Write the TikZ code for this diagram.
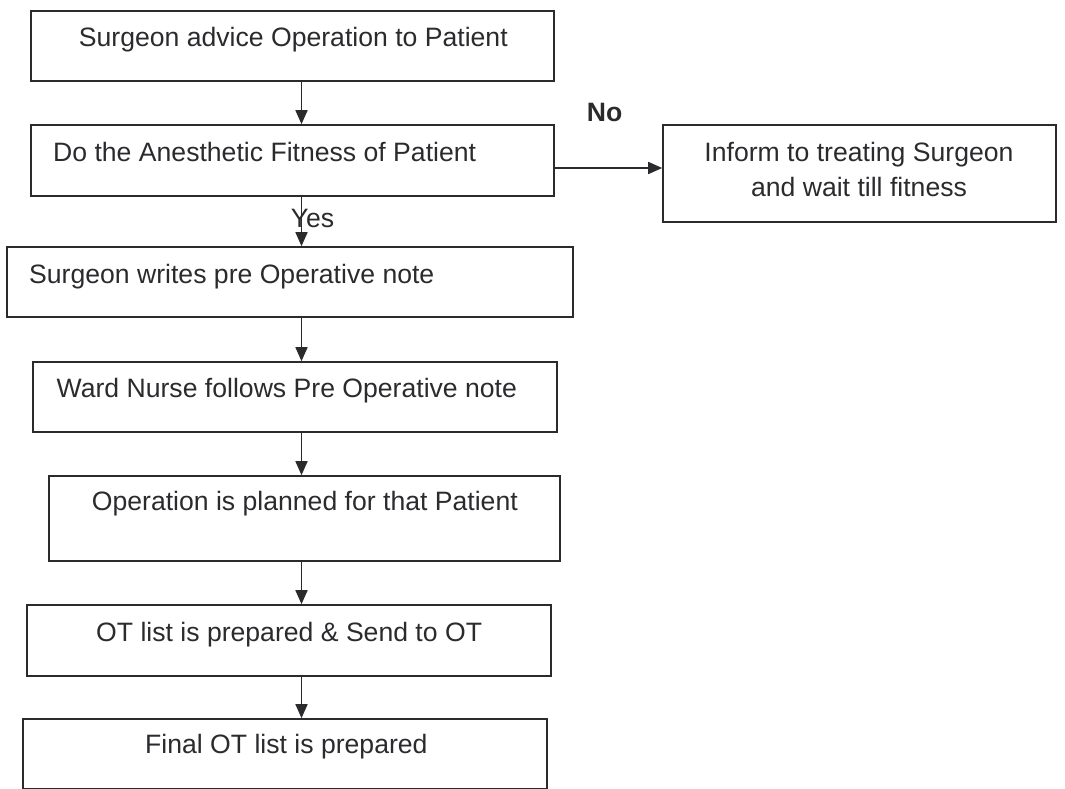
\documentclass[tikz,border=0pt]{standalone}
\usepackage{fontspec}
\setmainfont{Liberation Sans}
\usetikzlibrary{arrows.meta}
\definecolor{ink}{HTML}{2B2B2E}
\tikzset{
  box/.style={draw=ink, line width=1.6pt, fill=none, inner sep=0pt, minimum width=#1},
  txt/.style={anchor=base west, inner sep=0pt, text=ink, font=\fontsize{26.6}{32}\selectfont},
  ctxt/.style={anchor=base, inner sep=0pt, text=ink, font=\fontsize{26.6}{32}\selectfont},
  arr/.style={draw=ink, line width=1.6pt, -{Triangle[length=14pt,width=12pt]}}
}
\begin{document}
\begin{tikzpicture}[x=1pt,y=-1pt]
\useasboundingbox (0,0) rectangle (1065,789);
% boxes
\node[box=523pt, minimum height=70pt] (b1) at (292.5,46) {};
\node[box=523pt, minimum height=71pt] (b2) at (292.5,160.5) {};
\node[box=393pt, minimum height=97pt] (b3) at (859.5,173.5) {};
\node[box=566pt, minimum height=70pt] (b4) at (290,282) {};
\node[box=524pt, minimum height=70pt] (b5) at (295,397) {};
\node[box=511pt, minimum height=85pt] (b6) at (304.5,518.5) {};
\node[box=524pt, minimum height=71pt] (b7) at (289,640.5) {};
\node[box=524pt, minimum height=70pt] (b8) at (285,754) {};
% texts
\node[txt] (t1) at (78.7,46.7) {Surgeon advice Operation to Patient};
\node[txt] (t2) at (53,161.7) {Do the Anesthetic Fitness of Patient};
\node[ctxt] (t3a) at (859,161.7) {Inform to treating Surgeon};
\node[ctxt] (t3b) at (859,196.7) {and wait till fitness};
\node[txt] (t4) at (29,283) {Surgeon writes pre Operative note};
\node[txt] (t5) at (56.5,397) {Ward Nurse follows Pre Operative note};
\node[txt] (t6) at (91.7,510.7) {Operation is planned for that Patient};
\node[txt] (t7) at (96,641.5) {OT list is prepared \& Send to OT};
\node[txt] (t8) at (145,753) {Final OT list is prepared};
\node[txt, font=\fontsize{26.6}{32}\selectfont\bfseries] (no) at (586.7,121.7) {No};
\node[txt] (yes) at (290.6,227.7) {Yes};
% connectors
\coordinate (sp) at (301.5,0);
\coordinate (hy) at (0,168);
\draw[arr] (b1.south -| sp) -- (b2.north -| sp);
\draw[arr] (b2.south -| sp) -- (b4.north -| sp);
\draw[arr] (b4.south -| sp) -- (b5.north -| sp);
\draw[arr] (b5.south -| sp) -- (b6.north -| sp);
\draw[arr] (b6.south -| sp) -- (b7.north -| sp);
\draw[arr] (b7.south -| sp) -- (b8.north -| sp);
\draw[arr] (b2.east |- hy) -- (b3.west |- hy);
\end{tikzpicture}
\end{document}
